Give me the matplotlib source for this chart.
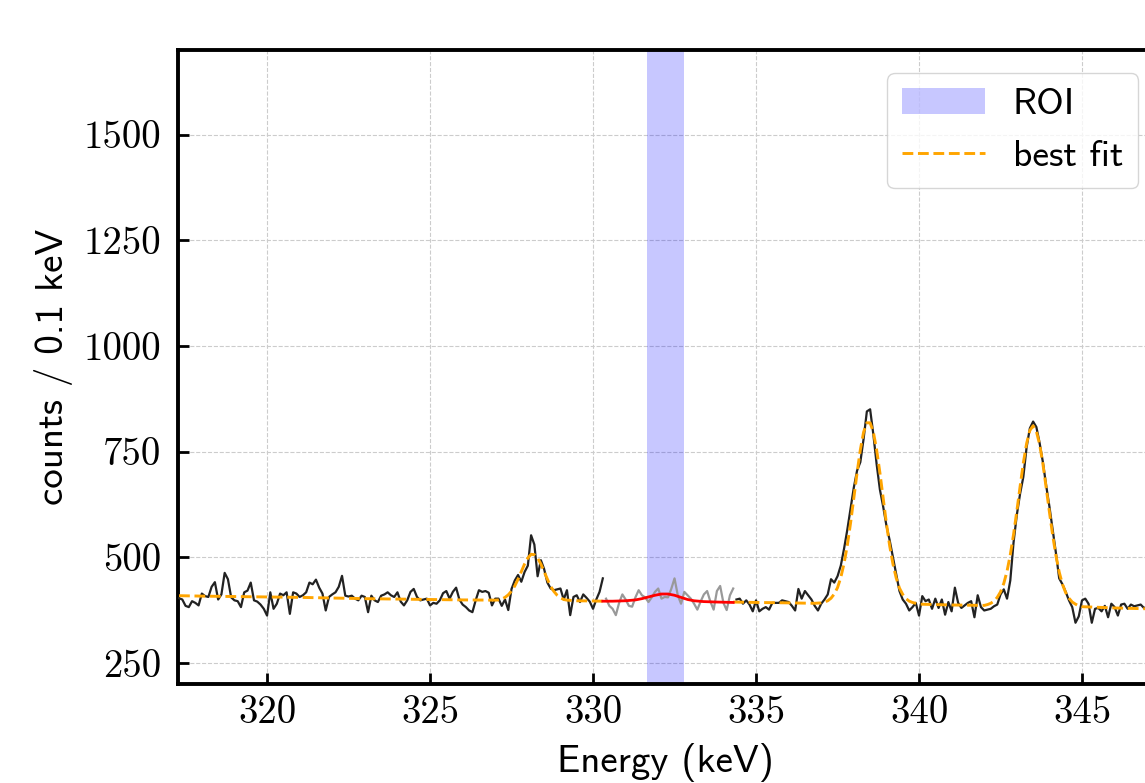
import numpy as np
import matplotlib.pyplot as plt

# spectrum, 0.1 keV bins
left_start = 317.3
left_counts = [403, 400, 385, 382, 396, 392, 386, 414, 408, 406,
               430, 441, 400, 412, 463, 448, 405, 398, 396, 382,
               417, 421, 440, 398, 395, 388, 378, 362, 417, 378,
               390, 414, 410, 417, 366, 417, 414, 406, 410, 417,
               440, 436, 447, 428, 414, 374, 406, 412, 417, 430,
               456, 409, 407, 409, 402, 398, 409, 406, 370, 409,
               398, 394, 409, 412, 417, 410, 406, 417, 395, 386,
               398, 418, 425, 406, 398, 400, 402, 386, 392, 390,
               398, 415, 420, 402, 418, 428, 400, 388, 382, 374,
               370, 398, 422, 418, 420, 416, 386, 402, 402, 385,
               400, 375, 425, 445, 458, 442, 465, 480, 552, 530,
               455, 493, 472, 440, 426, 422, 424, 426, 400, 422,
               363, 406, 410, 394, 412, 404, 395, 378, 400, 418,
               450]

# blinded region around the ROI (grey)
blind_start = 330.4
blind_counts = [402, 385, 378, 363, 392, 412, 400, 385, 383, 405,
                422, 410, 405, 394, 405, 418, 426, 402, 406, 405,
                425, 450, 410, 390, 418, 410, 402, 390, 376, 395,
                412, 420, 395, 376, 420, 432, 392, 375, 410, 426]

right_start = 334.4
right_counts = [400, 402, 390, 398, 388, 372, 398, 372, 378, 382,
                376, 392, 392, 392, 398, 396, 394, 385, 374, 425,
                402, 420, 410, 400, 385, 374, 390, 400, 412, 448,
                440, 455, 480, 520, 565, 615, 665, 705, 725, 780,
                845, 850, 790, 720, 660, 620, 575, 540, 500, 460,
                420, 400, 390, 374, 382, 392, 362, 408, 396, 400,
                378, 402, 380, 400, 364, 394, 372, 428, 392, 380,
                386, 392, 396, 358, 410, 382, 374, 376, 378, 384,
                388, 412, 424, 402, 445, 535, 600, 650, 690, 760,
                805, 821, 808, 770, 725, 670, 620, 565, 510, 450,
                436, 418, 398, 382, 345, 360, 398, 402, 390, 345,
                378, 380, 372, 385, 358, 390, 382, 362, 388, 390,
                378, 388, 384, 386, 388, 380, 382]

# best fit curve
fit_left_e = [317.3, 318.0, 319.0, 320.0, 321.0, 322.0, 323.0, 324.0, 325.0,
              326.0, 327.0, 327.1, 327.2, 327.3, 327.4, 327.5, 327.6, 327.7,
              327.8, 327.9, 328.0, 328.1, 328.2, 328.3, 328.4, 328.5, 328.6,
              328.7, 328.8, 328.9, 329.0, 329.1, 329.2, 329.5, 330.0, 330.3]
fit_left_y = [409, 408, 407, 406, 405, 403.5, 402, 401, 400,
              399, 398.5, 399, 401, 405, 411, 420, 432, 448,
              466, 484, 498, 507, 506, 498, 484, 466, 448,
              431, 419, 410, 404, 400, 398.5, 397, 396.5, 396]

fit_right_e = [334.3, 335.0, 336.0, 336.8, 337.0, 337.1, 337.2, 337.3, 337.4,
               337.5, 337.6, 337.7, 337.8, 337.9, 338.0, 338.1, 338.2, 338.3,
               338.4, 338.5, 338.6, 338.7, 338.8, 338.9, 339.0, 339.1, 339.2,
               339.3, 339.4, 339.5, 339.6, 339.7, 339.8, 340.0, 341.0, 342.0,
               342.1, 342.2, 342.3, 342.4, 342.5, 342.6, 342.7, 342.8, 342.9,
               343.0, 343.1, 343.2, 343.3, 343.4, 343.5, 343.6, 343.7, 343.8,
               343.9, 344.0, 344.1, 344.2, 344.3, 344.4, 344.5, 344.6, 344.7,
               344.8, 344.9, 345.0, 346.0, 347.0]
fit_right_y = [394, 393, 392, 391, 392, 394, 397, 403, 413,
               428, 452, 485, 528, 581, 640, 700, 754, 796,
               818, 818, 796, 754, 700, 640, 580, 527, 484,
               451, 427, 412, 402, 396, 393, 389, 387, 386,
               388, 391, 396, 405, 418, 438, 467, 506, 554,
               609, 667, 723, 769, 800, 811, 798, 767, 721,
               665, 607, 552, 504, 465, 436, 416, 403, 394,
               389, 385, 383, 380, 378]

# fit inside the blinded window (red)
roi_fit_e = [330.3, 330.6, 331.0, 331.3, 331.5, 331.7, 331.9, 332.1, 332.3,
             332.5, 332.7, 332.9, 333.1, 333.4, 333.8, 334.3]
roi_fit_y = [396, 396, 397, 399, 402, 406, 410, 413, 413,
             410, 405, 400, 397, 395, 394, 393]

roi_window = [331.65, 332.8]


def bins(start, values):
    return np.round(start + 0.1 * np.arange(len(values)), 1)


fig = plt.figure(figsize=(11.45, 7.83), dpi=100)
ax = fig.add_axes([0.1555, 0.1264, 0.8507, 0.8097])

ax.axvspan(roi_window[0], roi_window[1], color='blue', alpha=0.22, lw=0,
           label='ROI', zorder=1)

ax.plot(bins(left_start, left_counts), left_counts, color='#222222', lw=1.6, zorder=3)
ax.plot(bins(right_start, right_counts), right_counts, color='#222222', lw=1.6, zorder=3)
ax.plot(bins(blind_start, blind_counts), blind_counts, color='#999999', lw=1.6, zorder=3)

ax.plot(fit_left_e, fit_left_y, color='orange', ls='--', lw=2.1, label='best fit', zorder=4)
ax.plot(fit_right_e, fit_right_y, color='orange', ls='--', lw=2.1, zorder=4)
ax.plot(roi_fit_e, roi_fit_y, color='red', lw=2.0, zorder=4)

ax.set_xlim(317.27, 347.15)
ax.set_ylim(200, 1700)
ax.set_xticks([320, 325, 330, 335, 340, 345])
ax.set_yticks([250, 500, 750, 1000, 1250, 1500])

ax.set_axisbelow(True)
ax.grid(True, ls='--', color='#cccccc', lw=0.8)

for s in ax.spines.values():
    s.set_linewidth(2.8)
ax.tick_params(direction='in', length=8, width=2, labelsize=28,
               labelfontfamily='cmr10')
ax.tick_params(axis='y', pad=12)
ax.tick_params(axis='x', pad=8)

ax.set_xlabel('Energy (keV)', fontfamily='cmss10', fontsize=28, labelpad=9)
ax.set_ylabel('counts / 0.1 keV', fontfamily='cmss10', fontsize=28, labelpad=8)

ax.legend(loc='upper right', bbox_to_anchor=(1138 / 1145, 1 - 73 / 783),
          bbox_transform=fig.transFigure, borderaxespad=0,
          prop={'family': 'cmss10', 'size': 27},
          handlelength=2.2, handletextpad=0.75)

plt.savefig('out.png', dpi=100)
